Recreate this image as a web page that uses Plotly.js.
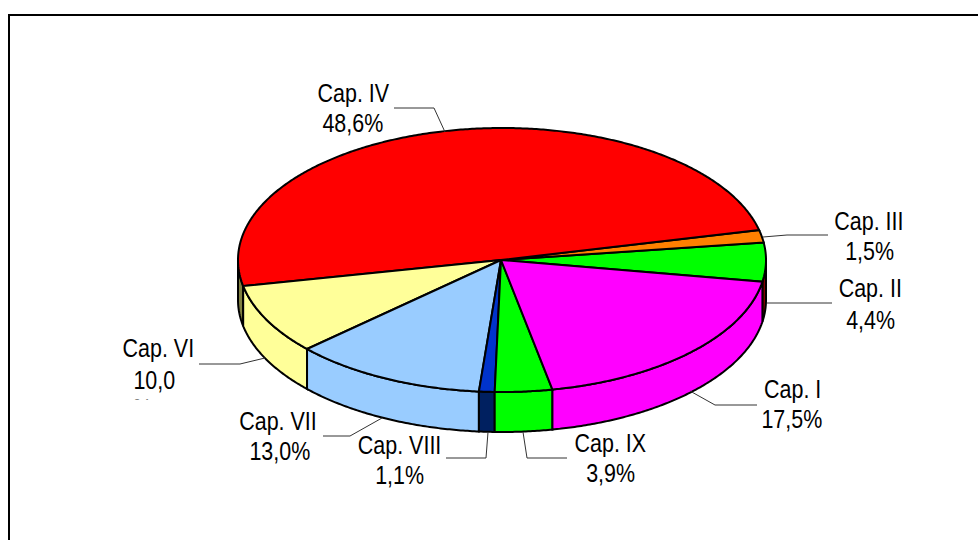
<!DOCTYPE html>
<html><head><meta charset="utf-8">
<script src="https://cdn.plot.ly/plotly-3.0.1.min.js"></script>
<style>html,body{margin:0;padding:0;background:#fff}#c{width:978px;height:540px}</style>
</head><body><div id="c"></div>
<script>
// data (counter-clockwise from the Cap. I / Cap. II boundary)
const categories = ["Cap. II","Cap. III","Cap. IV","Cap. VI","Cap. VII","Cap. VIII","Cap. IX","Cap. I"];
const shares = [4.4,1.5,48.6,10.0,13.0,1.1,3.9,17.5];
// styles
const topColors  = ["#00FF00","#FF8000","#FF0000","#FFFF99","#99CCFF","#0033CC","#00FF00","#FF00FF"];
const sideColors = ["#800000","#FF8000","#808040","#FFFF99","#99CCFF","#002060","#00FF00","#FF00FF"];
// label layout
const labelX  = [870,869,353,158,278,399,610,792];
const labelY1 = [288,221,93,348,421,445,443,389];
const labelX2 = [870,869,353,154,280,399,610,792];
const labelY2 = [320,251,123,380,451,475,473,419];
const leaders = [
 [[832,303],[767,303]],
 [[828,235],[787,235],[763,237]],
 [[394,108],[434,108],[445,132]],
 [[199,364],[240,364],[265,358]],
 [[323,436],[350,436],[382,418]],
 [[446,458],[486,458],[488,432]],
 [[567,458],[527,458],[523,432]],
 [[757,405],[715,405],[690,391]]
];
// projection of the disc
const cx=502, cy=260, rx=264, ry=132, depth=40, startDeg=-9.6;
const rad=Math.PI/180;
const warp=d=>d+3.5*Math.cos(2*d*rad)-3*Math.cos(d*rad)+2.5*Math.sin(d*rad)+1.5*Math.sin(3*d*rad)+0.5*Math.cos(3*d*rad)-0.8*Math.sin(4*d*rad);
const px=t=>cx+rx*Math.cos(t*rad);
const py=(t,z)=>cy-ry*Math.sin(t*rad)+(z||0);
const total=shares.reduce((a,b)=>a+b,0);
let acc=startDeg; const bounds=[acc];
shares.forEach(v=>{acc+=v/total*360;bounds.push(acc);});
const T=bounds.map(warp);
T[T.length-1]=T[0]+360;

function arc(a,b){const n=Math.max(2,Math.ceil(Math.abs(b-a)*2));const r=[];for(let i=0;i<=n;i++)r.push(a+(b-a)*i/n);return r;}
const traces=[];
function poly(xs,ys,fill){traces.push({type:'scatter',mode:'lines',x:xs,y:ys,fill:'toself',fillcolor:fill,line:{color:'#000',width:2,simplify:false},hoverinfo:'skip',showlegend:false});}
// side walls: only the part of the rim that faces the viewer
const walls=[];
shares.forEach((v,i)=>{
  let a=T[i],b=T[i+1];
  [[-180,0],[180,360]].forEach(([lo,hi])=>{
    const s=Math.max(a,lo),e=Math.min(b,hi);
    if(e>s) walls.push([s,e,sideColors[i]]);
  });
});
walls.forEach(([s,e,c])=>{
  const A=arc(s,e),B=A.slice().reverse();
  poly(A.map(px).concat(B.map(px),[px(s)]),A.map(t=>py(t,0)).concat(B.map(t=>py(t,depth)),[py(s,0)]),c);
});
// top faces
shares.forEach((v,i)=>{
  const A=arc(T[i],T[i+1]);
  poly([cx-1].concat(A.map(px),[cx-1]),[cy].concat(A.map(t=>py(t,0)),[cy]),topColors[i]);
});
const pct=v=>v.toFixed(1).replace('.',',')+'%';
const font={family:'"Liberation Sans",Arial,sans-serif',size:26,color:'#000'};
const ann=[];
const note=(x,y,text)=>ann.push({xref:'x',yref:'y',x,y,text,showarrow:false,font,xanchor:'center',yanchor:'middle'});
categories.forEach((c,i)=>{
  note(labelX[i],labelY1[i],c);
  if(c==="Cap. VI"){
    note(labelX2[i],labelY2[i],pct(shares[i]).replace('%',''));
    note(142,408,'%');
    ann.push({xref:'x',yref:'y',x:142,y:413,text:' ',showarrow:false,width:50,height:24,bgcolor:'#fff',font:{size:10},xanchor:'center',yanchor:'middle'});
  } else note(labelX2[i],labelY2[i],pct(shares[i]));
});
const shapes=[
 {type:'path',xref:'x',yref:'y',path:'M978,15 L9,15 L9,540',line:{color:'#000',width:2}}
];
leaders.forEach(l=>shapes.push({type:'path',xref:'x',yref:'y',path:'M'+l.map(p=>p.join(',')).join(' L'),line:{color:'#333',width:1}}));
Plotly.newPlot('c',traces,{
  width:978,height:540,margin:{l:0,r:0,t:0,b:0},paper_bgcolor:'#fff',plot_bgcolor:'#fff',showlegend:false,
  xaxis:{range:[0,978],visible:false,fixedrange:true},
  yaxis:{range:[540,0],visible:false,fixedrange:true},
  shapes,annotations:ann
},{displayModeBar:false,staticPlot:true}).then(()=>{
  // the labels use a condensed face: narrow the glyphs horizontally
  document.querySelectorAll('.annotation-text').forEach(el=>{
    const w=el.getComputedTextLength();
    if(w>0){el.setAttribute('textLength',w*0.825);el.setAttribute('lengthAdjust','spacingAndGlyphs');}
  });
});
</script></body></html>
